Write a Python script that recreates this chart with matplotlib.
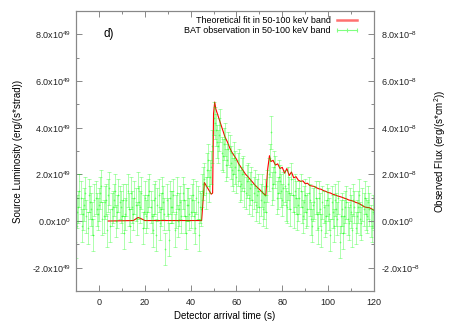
import numpy as np
import matplotlib
matplotlib.use('Agg')
import matplotlib.pyplot as plt
from matplotlib.lines import Line2D
from matplotlib.ticker import MultipleLocator, FixedLocator

plt.rcParams['font.family'] = ['Liberation Sans', 'DejaVu Sans']
plt.rcParams['mathtext.default'] = 'regular'

# BAT observation, 0.5 s bins (two interleaved lists),
# luminosity in units of 1e49 erg/(s*strad)
obs_t_a = np.arange(-10, 121, 1)
obs_lum_a = [
    -0.9, 0.6, 1.0, 0.3, 1.2, -0.3, 0.8, 0.1, 0.9, 0.5,
    0.7, 1.5, 0.2, 0.9, 1.1, -0.2, 0.6, 1.3, 0.4, 0.8,
    0.2, -0.5, 0.9, 0.5, 1.2, 0.3, 0.7, 1.4, 0.6, -0.3,
    1.0, 0.4, 1.3, 0.2, 0.9, -0.6, 1.1, 0.5, 0.8, -1.2,
    0.3, 1.0, 0.6, -0.4, 1.2, 0.5, 0.2, 0.9, -0.5, 0.7,
    0.4, 1.1, -0.3, 0.8, 0.6,
    1.3, 1.8, 2.2, 1.5, 2.3,
    4.4, 3.9, 3.2, 4.1, 2.8, 3.5, 2.6, 3.0, 2.2, 2.7,
    1.9, 2.4, 1.6, 2.1, 1.2, 1.8, 1.4, 0.9, 1.5, 1.1,
    0.6, 1.3, 0.8, 0.4,
    2.0, 3.8, 1.6, 2.1, 1.2, 1.7,
    0.9, 1.5, 0.6, 1.2, 1.8, 0.4, 1.0, 0.7, 1.3, 0.2,
    1.1, 0.5, 0.9, -0.2, 0.8, 0.3, 1.0, -0.4, 0.6, 0.2,
    0.7, -0.6, 0.4, 0.9, 0.1, -0.9, 0.5, 0.2, 0.8, -0.1,
    0.4, 0.9, -0.3, 0.6, 0.1, 0.7, 1.0, 0.2, 0.5, -0.2, 0.3,
]
obs_t_b = np.arange(-9.5, 120, 1)
obs_lum_b = [
    0.4, 1.3, -0.2, 0.7, 0.2, 1.1, 0.5, -0.6, 1.0, 0.3,
    1.2, 0.1, 0.8, -0.4, 1.4, 0.5, 0.9, 0.0, 1.1, 0.6,
    0.9, 0.3, 1.3, -0.2, 0.6, 1.0, 0.1, 0.8, 1.2, 0.4,
    0.2, 1.1, 0.6, -0.4, 1.0, 0.7, -0.1, 1.2, 0.3, 0.9,
    -0.8, 0.6, 1.1, 0.4, 0.0, 0.8, 1.2, 0.2, 0.7, 0.3,
    0.9, 0.2, 1.0, -0.6, 0.5,
    1.6, 1.2, 2.6, 1.9, 3.2,
    4.2, 3.4, 3.7, 2.9, 3.3, 2.4, 3.1, 2.5, 2.0, 2.3,
    2.2, 1.5, 2.0, 1.3, 1.7, 1.0, 1.6, 1.2, 0.7, 1.3,
    0.9, 0.5, 1.1, 1.5,
    2.6, 1.4, 2.3, 1.0, 1.9, 1.3,
    1.4, 0.7, 1.6, 0.5, 1.1, 1.3, 0.3, 1.0, 0.6, 0.8,
    0.4, 1.2, 0.1, 0.7, 1.0, -0.3, 0.5, 0.8, 0.0, 0.9,
    0.3, 0.8, -0.2, 0.5, 1.0, 0.2, -0.5, 0.6, 0.1, 0.7,
    -0.4, 0.6, 0.2, 1.1, -0.1, 0.5, 0.3, 0.8, 0.0, 0.4,
]
obs_err = 0.7

# theoretical fit, same units
fit_t = [4, 15, 17, 18, 20, 44.8, 46, 49, 49.6, 50.0, 50.5, 51, 52, 53, 54, 55,
         56, 57, 58, 59, 60, 61, 62, 63, 64, 65, 66, 67, 68, 69, 70, 71, 72,
         72.8, 73.6, 74.4, 75, 76, 77, 78, 79, 80, 81, 82, 83, 84, 85, 86, 87,
         88, 89, 90, 91, 92, 93, 94, 95, 96, 97, 98, 99, 100, 101, 102, 103,
         104, 105, 106, 107, 108, 109, 110, 111, 112, 113, 114, 115, 116, 117,
         118, 119, 120]
fit_lum = [0.0, 0.02, 0.15, 0.12, 0.02, 0.02, 1.65, 1.15, 1.2, 4.6, 5.1, 4.8,
           4.5, 4.2, 3.9, 3.6, 3.4, 3.15, 2.95, 2.8, 2.65, 2.45, 2.3, 2.15, 2.0,
           1.9, 1.78, 1.67, 1.55, 1.45, 1.36, 1.26, 1.16, 1.08, 2.2, 2.8, 2.55,
           2.6, 2.4, 2.45, 2.25, 2.3, 2.05, 2.25, 1.95, 2.1, 1.85, 1.9, 1.75,
           1.7, 1.72, 1.6, 1.62, 1.52, 1.5, 1.48, 1.42, 1.38, 1.36, 1.3, 1.27,
           1.22, 1.2, 1.15, 1.12, 1.08, 1.05, 1.02, 0.98, 0.95, 0.9, 0.88, 0.85,
           0.8, 0.77, 0.72, 0.66, 0.6, 0.58, 0.57, 0.52, 0.46]

left_ticks = [-2, 0, 2, 4, 6, 8]
left_labels = ['-2.0x10$^{49}$', '0.0x10$^{0}$', '2.0x10$^{49}$',
               '4.0x10$^{49}$', '6.0x10$^{49}$', '8.0x10$^{49}$']
right_labels = ['-2.0x10$^{-8}$', '0.0x10$^{0}$', '2.0x10$^{-8}$',
                '4.0x10$^{-8}$', '6.0x10$^{-8}$', '8.0x10$^{-8}$']

obs_t = np.concatenate([obs_t_a, obs_t_b])
obs_lum = np.concatenate([obs_lum_a, obs_lum_b])
order = np.argsort(obs_t)
obs_t, obs_lum = obs_t[order], obs_lum[order]

fig = plt.figure(figsize=(4.5, 3.21), dpi=100)
ax = fig.add_axes([0.169, 0.0935, 0.662, 0.872])

ax.plot(fit_t, fit_lum, color='red', lw=0.8, zorder=2)
ax.errorbar(obs_t, obs_lum, yerr=obs_err, fmt='+', color='#00ff00', alpha=0.45,
            ms=2, mew=0.5, elinewidth=0.5, capsize=1.5, capthick=0.5, zorder=3)

ax.set_xlim(-10, 120)
ax.set_ylim(-3, 9)
ax.xaxis.set_major_locator(MultipleLocator(20))
ax.xaxis.set_minor_locator(MultipleLocator(10))
ax.yaxis.set_major_locator(FixedLocator(left_ticks))
ax.yaxis.set_minor_locator(MultipleLocator(1))
ax.set_yticklabels(left_labels)

ax2 = ax.twinx()
ax2.set_ylim(-3, 9)
ax2.yaxis.set_major_locator(FixedLocator(left_ticks))
ax2.yaxis.set_minor_locator(MultipleLocator(1))
ax2.set_yticklabels(right_labels)

for a in (ax, ax2):
    for s in a.spines.values():
        s.set_color('#888888')
        s.set_linewidth(0.8)
    a.tick_params(which='both', direction='in', colors='#888888',
                  labelcolor='#222222', labelsize=6.5, width=0.7)
    a.tick_params(which='major', length=4)
    a.tick_params(which='minor', length=2)
ax.tick_params(axis='x', which='both', top=True)
ax.tick_params(axis='x', pad=5)
ax.tick_params(axis='y', pad=4)
ax2.tick_params(axis='y', pad=5)

ax.set_xlabel('Detector arrival time (s)', fontsize=7, labelpad=3)
ax.set_ylabel('Source Luminosity (erg/(s*strad))', fontsize=7, labelpad=6)
ax2.set_ylabel('Observed Flux (erg/(s*cm$^2$))', fontsize=7, labelpad=9)

ax.text(2, 8.0, 'd)', fontsize=8.5, ha='left', va='center')

handles = [Line2D([], [], color='#ff7070', lw=1.8),
           Line2D([], [], color='#80ff80', lw=0.8, marker='|', ms=3, mew=0.8)]
ax2.legend(handles, ['Theoretical fit in 50-100 keV band',
                     'BAT observation in 50-100 keV band'],
           loc='upper right', markerfirst=False, frameon=False, fontsize=6.5,
           numpoints=3, handlelength=2.8, handletextpad=0.4, labelspacing=0.1,
           borderaxespad=0.2, bbox_to_anchor=(0.97, 1.0))

fig.savefig('out.png', dpi=100)
